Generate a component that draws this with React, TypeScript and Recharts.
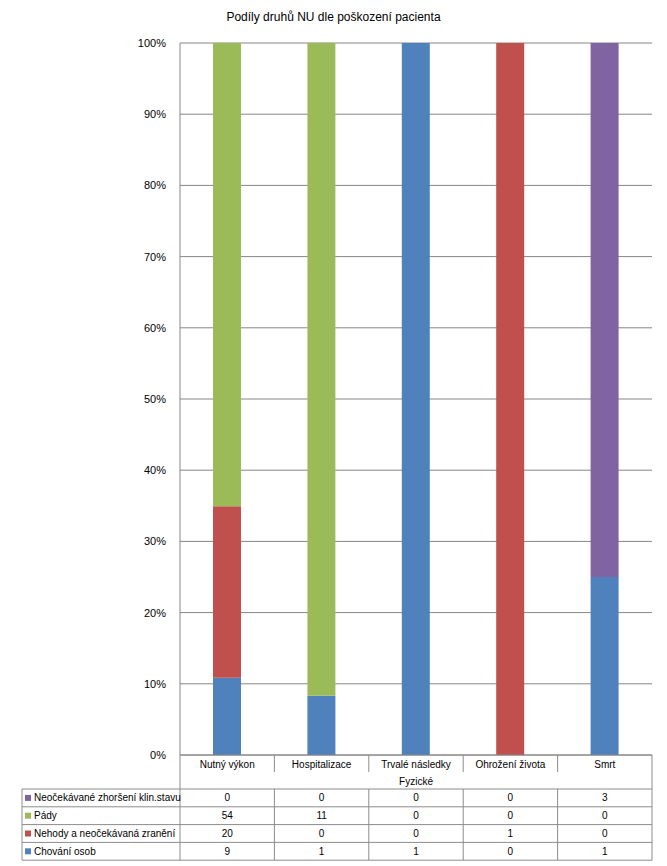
import React from 'react';
import { BarChart, Bar, XAxis, YAxis, CartesianGrid } from 'recharts';

const categories = ['Nutný výkon', 'Hospitalizace', 'Trvalé následky', 'Ohrožení života', 'Smrt'];
const groupLabel = 'Fyzické';
const chovaniOsob = [9, 1, 1, 0, 1];
const nehody = [20, 0, 0, 1, 0];
const pady = [54, 11, 0, 0, 0];
const neocekavane = [0, 0, 0, 0, 3];
const yTicks = [0, 0.1, 0.2, 0.3, 0.4, 0.5, 0.6, 0.7, 0.8, 0.9, 1];
const title = 'Podíly druhů NU dle poškození pacienta';

const series = [
  { key: 'chovani', name: 'Chování osob', color: '#4F81BD', values: chovaniOsob },
  { key: 'nehody', name: 'Nehody a neočekávaná zranění', color: '#C0504D', values: nehody },
  { key: 'pady', name: 'Pády', color: '#9BBB59', values: pady },
  { key: 'neocekavane', name: 'Neočekávané zhoršení klin.stavu', color: '#8064A2', values: neocekavane },
];

const data = categories.map((c, i) => {
  const row: any = { name: c };
  series.forEach((s) => { row[s.key] = s.values[i]; });
  return row;
});

const W = 667;
const H = 866;
const M_LEFT = 120;
const Y_W = 60;
const M_RIGHT = 15;
const M_TOP = 43;
const X_H = 105;
const M_BOTTOM = 6;
const BAND = (W - M_LEFT - Y_W - M_RIGHT) / categories.length;
const TABLE_LEFT = 22;
const FONT = '"Liberation Sans", Arial, sans-serif';
const GRID = '#868686';
const BORDER = '#8c8c8c';
const CAT_ROW_H = 17;
const HEAD_H = 34;
const ROW_H = 17.8;

const tableRows = [...series].reverse();

function TableTick(props: any) {
  const { x, y, payload } = props;
  const i = payload.index;
  const base = y;
  const left = x - BAND / 2;
  const tableTop = base + HEAD_H;
  const tableBottom = tableTop + ROW_H * tableRows.length;
  const plotLeft = x - BAND / 2 - i * BAND;
  const plotRight = plotLeft + BAND * categories.length;
  return (
    <g fontFamily={FONT} fontSize={10} fill="#000">
      <text x={x} y={base + 12.5} textAnchor="middle" fill="#000">{payload.value}</text>
      {i > 0 && <line x1={left} x2={left} y1={base} y2={base + CAT_ROW_H} stroke={BORDER} />}
      {i > 0 && <line x1={left} x2={left} y1={tableTop} y2={tableBottom} stroke={BORDER} />}
      {tableRows.map((r, k) => (
        <text key={r.key} x={x} y={tableTop + ROW_H * k + ROW_H / 2 + 3.5} textAnchor="middle" fill="#000">
          {r.values[i]}
        </text>
      ))}
      {i === 0 && (
        <g>
          <text x={(plotLeft + plotRight) / 2} y={base + 29.5} textAnchor="middle" fill="#000">{groupLabel}</text>
          <line x1={plotLeft} x2={plotLeft} y1={base} y2={tableBottom} stroke={BORDER} />
          <line x1={plotRight} x2={plotRight} y1={base} y2={tableBottom} stroke={BORDER} />
          <line x1={TABLE_LEFT} x2={TABLE_LEFT} y1={tableTop} y2={tableBottom} stroke={BORDER} />
          {tableRows.map((r, k) => (
            <line key={'h' + k} x1={TABLE_LEFT} x2={plotRight} y1={tableTop + ROW_H * k} y2={tableTop + ROW_H * k} stroke={BORDER} />
          ))}
          <line x1={TABLE_LEFT} x2={plotRight} y1={tableBottom} y2={tableBottom} stroke={BORDER} />
          {tableRows.map((r, k) => (
            <g key={'l' + k}>
              <rect x={TABLE_LEFT + 3} y={tableTop + ROW_H * k + ROW_H / 2 - 3} width={6} height={6} fill={r.color} />
              <text x={TABLE_LEFT + 12} y={tableTop + ROW_H * k + ROW_H / 2 + 3.5} fill="#000">{r.name}</text>
            </g>
          ))}
        </g>
      )}
    </g>
  );
}

export default function App() {
  return (
    <div style={{ position: 'absolute', left: 0, top: 0, width: W, height: H, background: '#fff' }}>
      <div
        style={{
          position: 'absolute', left: 0, top: 10, width: W, textAlign: 'center',
          fontFamily: FONT, fontSize: 12, color: '#000',
        }}
      >
        {title}
      </div>
      <BarChart
        width={W}
        height={H}
        data={data}
        stackOffset="expand"
        barSize={28}
        margin={{ top: M_TOP, right: M_RIGHT, left: M_LEFT, bottom: M_BOTTOM }}
        style={{ fontFamily: FONT }}
      >
        <CartesianGrid vertical={false} stroke={GRID} strokeDasharray="" />
        <XAxis
          dataKey="name"
          height={X_H}
          interval={0}
          axisLine={{ stroke: GRID }}
          tickLine={false}
          tickSize={0}
          tickMargin={0}
          tick={<TableTick />}
        />
        <YAxis
          type="number"
          domain={[0, 1]}
          ticks={yTicks}
          width={Y_W}
          tickFormatter={(v: number) => Math.round(v * 100) + '%'}
          axisLine={{ stroke: GRID }}
          tickLine={false}
          tickSize={6}
          tickMargin={8}
          tick={{ fontSize: 11, fill: '#000', fontFamily: FONT }}
        />
        {series.map((s) => (
          <Bar key={s.key} dataKey={s.key} name={s.name} stackId="a" fill={s.color} isAnimationActive={false} />
        ))}
      </BarChart>
    </div>
  );
}
